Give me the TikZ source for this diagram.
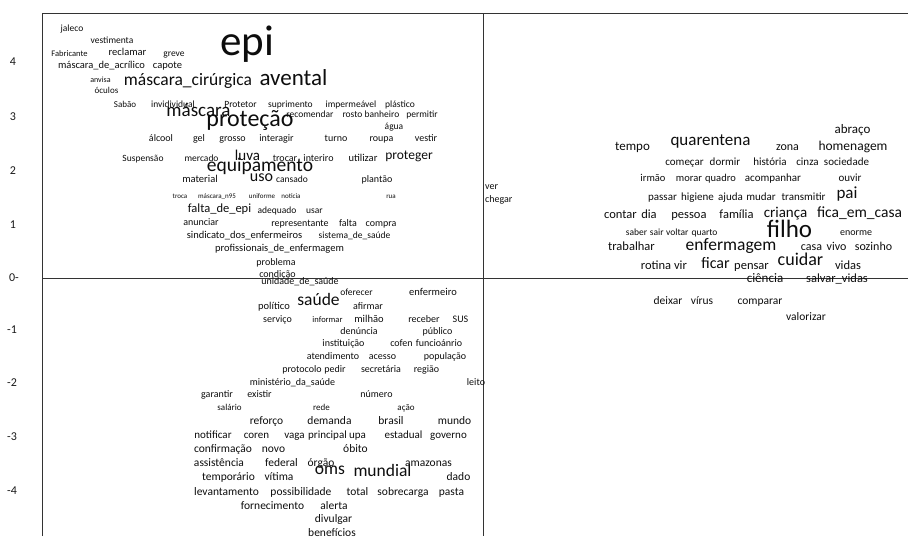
\documentclass[tikz,border=0pt]{standalone}
\usepackage{fontspec}
\setmainfont{Carlito}
\usetikzlibrary{positioning}

\tikzset{
  word/.style={inner sep=0pt, text height=.7em, text depth=.2em, text=black!95},
  sz/.style={font=\fontsize{#1}{#1}\selectfont},
  axisline/.style={draw=black!80, line width=.8pt},
  ticklabel/.style={inner sep=0pt, text=black!90, font=\fontsize{12}{12}\selectfont},
}

\begin{document}
\begin{tikzpicture}[x=1pt,y=-1pt]
\useasboundingbox (0,0) rectangle (908,536);
\clip (0,0) rectangle (908,536);

% frame and axes
\coordinate (tl) at (42,13);
\coordinate (tr) at (908,13);
\coordinate (bl) at (42,536);
\coordinate (vtop) at (483,13);
\coordinate (vbot) at (483,536);
\coordinate (hleft) at (42,278);
\coordinate (hright) at (908,278);
\draw[axisline] (bl) -- (tl) -- (tr);
\draw[axisline] (vtop) -- (vbot);
\draw[axisline] (hleft) -- (hright);

% tick labels
\node[ticklabel] (t4) at (13,62) {4};
\node[ticklabel] (t3) at (13,117) {3};
\node[ticklabel] (t2) at (13,171) {2};
\node[ticklabel] (t1) at (13,225) {1};
\node[ticklabel] (t0) at (14,278) {0-};
\node[ticklabel] (tm1) at (12,330) {-1};
\node[ticklabel] (tm2) at (12,383) {-2};
\node[ticklabel] (tm3) at (12,437) {-3};
\node[ticklabel] (tm4) at (12,491) {-4};

% upper left
\node[word,sz=9.5] (jaleco) at (72,28.5) {jaleco};
\node[word,sz=9.5] (vestimenta) at (112,41) {vestimenta};
\node[word,sz=8.5] (fabricante) at (69.5,53.5) {Fabricante};
\node[word,sz=10.5] (reclamar) at (127.5,53) {reclamar};
\node[word,sz=9.5] (greve) at (174,53.5) {greve};
\node[word,sz=10.5] (mascAcril) at (101.5,66) {máscara\_de\_acrílico};
\node[word,sz=10.5] (capote) at (167.5,66) {capote};
\node[word,sz=8] (anvisa) at (100.5,80) {anvisa};
\node[word,sz=9] (oculos) at (106.5,91) {óculos};
\node[word,sz=17.5] (mascCir) at (188,82.5) {máscara\_cirúrgica};
\node[word,sz=23] (avental) at (293.5,83) {avental};
\node[word,sz=43] (epi) at (247.5,52.5) {epi};

\node[word,sz=9] (sabao) at (125,104.5) {Sabão};
\node[word,sz=9.5] (invid) at (173,104.5) {invidividual};
\node[word,sz=9.5] (protetor) at (240.5,104.5) {Protetor};
\node[word,sz=9.5] (suprimento) at (290.5,104.5) {suprimento};
\node[word,sz=9.5] (impermeavel) at (351,104.5) {impermeável};
\node[word,sz=9.5] (plastico) at (400,104.5) {plástico};
\node[word,sz=19] (mascara) at (198.5,114) {máscara};
\node[word,sz=24] (protecao) at (250,124) {proteção};
\node[word,sz=9.5] (recomendar) at (310,115) {recomendar};
\node[word,sz=9.5] (rosto) at (352.5,115) {rosto};
\node[word,sz=9.5] (banheiro) at (382,115) {banheiro};
\node[word,sz=9.5] (permitir) at (422,115) {permitir};
\node[word,sz=9.5] (agua) at (394,127) {água};
\node[word,sz=10] (alcool) at (161,139) {álcool};
\node[word,sz=10] (gel) at (199,139) {gel};
\node[word,sz=10] (grosso) at (232.5,139) {grosso};
\node[word,sz=10] (interagir) at (276.5,139) {interagir};
\node[word,sz=10] (turno) at (336,139) {turno};
\node[word,sz=10] (roupa) at (381.5,139) {roupa};
\node[word,sz=10] (vestir) at (426,139) {vestir};

\node[word,sz=9.5] (suspensao) at (143,159) {Suspensão};
\node[word,sz=9.5] (mercado) at (201.5,159) {mercado};
\node[word,sz=15] (luva) at (247.5,157.5) {luva};
\node[word,sz=10] (trocar) at (285,159) {trocar};
\node[word,sz=10] (interiro) at (318.5,159) {interiro};
\node[word,sz=10.5] (utilizar) at (363,159) {utilizar};
\node[word,sz=13.5] (proteger) at (409,157) {proteger};
\node[word,sz=19.5] (equipamento) at (260,169) {equipamento};
\node[word,sz=10.5] (material) at (200,180) {material};
\node[word,sz=16] (uso) at (261.5,179) {uso};
\node[word,sz=9.5] (cansado) at (292,180) {cansado};
\node[word,sz=10] (plantao) at (377,180) {plantão};

\node[word,sz=7] (troca) at (180,196) {troca};
\node[word,sz=7] (mascN95) at (217,196) {máscara\_n95};
\node[word,sz=7] (uniforme) at (262,196) {uniforme};
\node[word,sz=7] (noticia) at (291,196) {noticia};
\node[word,sz=7] (rua) at (391,196) {rua};
\node[word,sz=12.5] (faltaEpi) at (219.5,210) {falta\_de\_epi};
\node[word,sz=9.5] (adequado) at (277,211) {adequado};
\node[word,sz=9.5] (usar) at (314.5,211) {usar};
\node[word,sz=10] (anunciar) at (201,223) {anunciar};
\node[word,sz=10] (representante) at (300,224) {representante};
\node[word,sz=10] (falta) at (348,224) {falta};
\node[word,sz=10] (compra) at (381,224) {compra};
\node[word,sz=10.5] (sindicato) at (244.5,236) {sindicato\_dos\_enfermeiros};
\node[word,sz=9.5] (sistema) at (354.5,236) {sistema\_de\_saúde};
\node[word,sz=10.5] (profissionais) at (279.5,249) {profissionais\_de\_enfermagem};
\node[word,sz=10] (problema) at (276,262.5) {problema};
\node[word,sz=10] (condicao) at (277.5,275) {condição};

% lower left
\node[word,sz=10] (unidade) at (300,282) {unidade\_de\_saúde};
\node[word,sz=9.5] (oferecer) at (356.5,293) {oferecer};
\node[word,sz=10.5] (enfermeiro) at (433,293) {enfermeiro};
\node[word,sz=10.5] (politico) at (274,307) {político};
\node[word,sz=17.5] (saude) at (318.5,302.5) {saúde};
\node[word,sz=10] (afirmar) at (368,307) {afirmar};
\node[word,sz=10] (servico) at (277.5,320) {serviço};
\node[word,sz=8.5] (informar) at (327.5,320) {informar};
\node[word,sz=10.5] (milhao) at (369,320) {milhão};
\node[word,sz=10] (receber) at (424,320) {receber};
\node[word,sz=10] (sus) at (460.5,320) {SUS};
\node[word,sz=10] (denuncia) at (359,332) {denúncia};
\node[word,sz=10] (publico) at (437.5,332) {público};
\node[word,sz=10] (instituicao) at (343.5,344) {instituição};
\node[word,sz=10] (cofen) at (401.5,344) {cofen};
\node[word,sz=10] (funcionario) at (439,344) {funcioánrio};
\node[word,sz=10] (atendimento) at (333,357) {atendimento};
\node[word,sz=10] (acesso) at (382.5,357) {acesso};
\node[word,sz=10] (populacao) at (445,357) {população};
\node[word,sz=10] (protocolo) at (302,370) {protocolo};
\node[word,sz=10] (pedir) at (335,370) {pedir};
\node[word,sz=10] (secretaria) at (381,370) {secretária};
\node[word,sz=10] (regiao) at (426.5,370) {região};
\node[word,sz=10] (ministerio) at (292.5,383) {ministério\_da\_saúde};
\node[word,sz=10] (leito) at (476,383) {leito};
\node[word,sz=10] (garantir) at (217,395) {garantir};
\node[word,sz=10] (existir) at (259.5,395) {existir};
\node[word,sz=10] (numero) at (376.5,395) {número};
\node[word,sz=9] (salario) at (229.5,408) {salário};
\node[word,sz=9] (rede) at (321.5,408) {rede};
\node[word,sz=9] (acao) at (406,408) {ação};
\node[word,sz=11.5] (reforco) at (266.5,422) {reforço};
\node[word,sz=11.5] (demanda) at (329.5,422) {demanda};
\node[word,sz=11.5] (brasil) at (391,422) {brasil};
\node[word,sz=11.5] (mundo) at (454.5,422) {mundo};
\node[word,sz=11] (notificar) at (213,435.5) {notificar};
\node[word,sz=11] (coren) at (256.5,435.5) {coren};
\node[word,sz=11] (vaga) at (294.5,435.5) {vaga};
\node[word,sz=11] (principal) at (327.5,435.5) {principal};
\node[word,sz=11] (upa) at (357.5,435.5) {upa};
\node[word,sz=11] (estadual) at (403.5,435.5) {estadual};
\node[word,sz=11] (governo) at (448.5,435.5) {governo};
\node[word,sz=11.5] (confirmacao) at (223,450) {confirmação};
\node[word,sz=11.5] (novo) at (273.5,450) {novo};
\node[word,sz=11.5] (obito) at (355.5,450) {óbito};
\node[word,sz=11.5] (assistencia) at (219,464) {assistência};
\node[word,sz=11.5] (federal) at (281.5,464) {federal};
\node[word,sz=11.5] (orgao) at (321,464) {órgão};
\node[word,sz=11.5] (amazonas) at (428.5,464) {amazonas};
\node[word,sz=11.5] (temporario) at (228.5,478) {temporário};
\node[word,sz=11.5] (vitima) at (279,478) {vítima};
\node[word,sz=17.5] (oms) at (330,472) {oms};
\node[word,sz=17.5] (mundial) at (382.5,474) {mundial};
\node[word,sz=11.5] (dado) at (458.5,478) {dado};
\node[word,sz=11.5] (levantamento) at (226.5,493) {levantamento};
\node[word,sz=11.5] (possibilidade) at (301,493) {possibilidade};
\node[word,sz=11.5] (total) at (357.5,493) {total};
\node[word,sz=11.5] (sobrecarga) at (403,493) {sobrecarga};
\node[word,sz=11.5] (pasta) at (451.5,493) {pasta};
\node[word,sz=11.5] (fornecimento) at (272.5,507) {fornecimento};
\node[word,sz=11.5] (alerta) at (334,507) {alerta};
\node[word,sz=11.5] (divulgar) at (333.5,520) {divulgar};
\node[word,sz=11.5] (beneficios) at (332,533.5) {benefícios};

% upper right
\node[word,sz=10,anchor=west] (ver) at (485,187) {ver};
\node[word,sz=10,anchor=west] (chegar) at (485,200) {chegar};
\node[word,sz=13] (abraco) at (852.5,131) {abraço};
\node[word,sz=13] (tempo) at (632.5,148) {tempo};
\node[word,sz=17] (quarentena) at (710.5,143) {quarentena};
\node[word,sz=12] (zona) at (787.5,148) {zona};
\node[word,sz=13.5] (homenagem) at (853,148) {homenagem};
\node[word,sz=11] (comecar) at (684.5,163) {começar};
\node[word,sz=11] (dormir) at (725,163) {dormir};
\node[word,sz=11] (historia) at (770,163) {história};
\node[word,sz=11] (cinza) at (807.5,163) {cinza};
\node[word,sz=11] (sociedade) at (846.5,163) {sociedade};
\node[word,sz=10.5] (irmao) at (653,179) {irmão};
\node[word,sz=10.5] (morar) at (689,179) {morar};
\node[word,sz=10.5] (quadro) at (720.5,179) {quadro};
\node[word,sz=11] (acompanhar) at (773,179) {acompanhar};
\node[word,sz=11] (ouvir) at (850,179) {ouvir};
\node[word,sz=11] (passar) at (662.5,198) {passar};
\node[word,sz=11] (higiene) at (697.5,198) {higiene};
\node[word,sz=11] (ajuda) at (730.5,198) {ajuda};
\node[word,sz=11] (mudar) at (761,198) {mudar};
\node[word,sz=11] (transmitir) at (803.5,198) {transmitir};
\node[word,sz=17] (pai) at (847,195.5) {pai};
\node[word,sz=12.5] (contar) at (620.5,216) {contar};
\node[word,sz=12.5] (dia) at (649,216) {dia};
\node[word,sz=12.5] (pessoa) at (689,216) {pessoa};
\node[word,sz=12.5] (familia) at (736.5,216) {família};
\node[word,sz=15] (crianca) at (785.5,215) {criança};
\node[word,sz=15.5] (ficaCasa) at (859.5,215) {fica\_em\_casa};
\node[word,sz=9.5] (saber) at (636.5,233) {saber};
\node[word,sz=9.5] (sair) at (656.7,233) {sair};
\node[word,sz=9.5] (voltar) at (677.3,233) {voltar};
\node[word,sz=9.5] (quarto) at (704.5,233) {quarto};
\node[word,sz=25] (filho) at (789.5,235) {filho};
\node[word,sz=10] (enorme) at (856,233) {enorme};
\node[word,sz=12.5] (trabalhar) at (631.5,248) {trabalhar};
\node[word,sz=17.5] (enfermagem) at (731,248) {enfermagem};
\node[word,sz=12] (casa) at (811.5,247.5) {casa};
\node[word,sz=12] (vivo) at (836.5,247.5) {vivo};
\node[word,sz=12] (sozinho) at (873.5,247.5) {sozinho};
\node[word,sz=12.5] (rotina) at (656,267) {rotina};
\node[word,sz=12.5] (vir) at (680.5,267) {vir};
\node[word,sz=16] (ficar) at (715.5,265.5) {ficar};
\node[word,sz=12.5] (pensar) at (751.5,267) {pensar};
\node[word,sz=18] (cuidar) at (800.5,263) {cuidar};
\node[word,sz=12.5] (vidas) at (848,267) {vidas};

% lower right
\node[word,sz=13] (ciencia) at (765,280) {ciência};
\node[word,sz=12.5] (salvarVidas) at (837,280) {salvar\_vidas};
\node[word,sz=11.5] (deixar) at (668,302) {deixar};
\node[word,sz=11.5] (virus) at (702,302) {vírus};
\node[word,sz=11.5] (comparar) at (760,302) {comparar};
\node[word,sz=11.5] (valorizar) at (806,318) {valorizar};
\end{tikzpicture}
\end{document}
